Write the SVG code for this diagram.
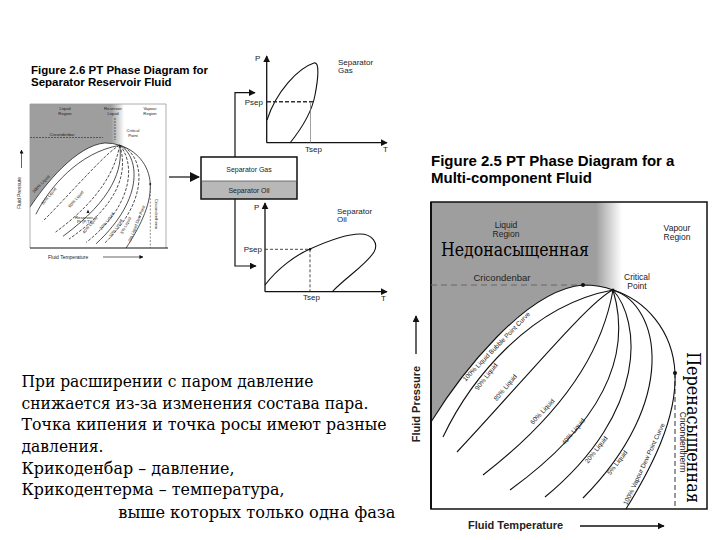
<svg xmlns="http://www.w3.org/2000/svg" width="720" height="540" viewBox="0 0 720 540">
<defs>
<style>
.s{font-family:"Liberation Sans",Arial,sans-serif}
.b{font-weight:bold}
.sr{font-family:"DejaVu Serif","Liberation Serif",serif}
.cv{fill:none;stroke:#111;stroke-width:1.1}
.cv6{fill:none;stroke:#222;stroke-width:0.8;vector-effect:non-scaling-stroke}
.dash6{stroke-dasharray:3 1.5}
.ax{stroke:#111;stroke-width:1.3;fill:none}
</style>
<linearGradient id="gfade" gradientUnits="userSpaceOnUse" x1="596" y1="0" x2="622" y2="0">
<stop offset="0" stop-color="#9e9e9e"/>
<stop offset="1" stop-color="#ffffff"/>
</linearGradient>
<marker id="ah" viewBox="0 0 10 10" refX="9" refY="5" markerWidth="7" markerHeight="7" markerUnits="userSpaceOnUse" orient="auto">
<path d="M0,0 L10,5 L0,10 z" fill="#111"/>
</marker>
<marker id="ahb" viewBox="0 0 10 10" refX="9" refY="5" markerWidth="10" markerHeight="10" markerUnits="userSpaceOnUse" orient="auto">
<path d="M0,0 L10,5 L0,10 z" fill="#111"/>
</marker>
<marker id="ahs" viewBox="0 0 10 10" refX="9" refY="5" markerWidth="4" markerHeight="4" markerUnits="userSpaceOnUse" orient="auto">
<path d="M0,0 L10,5 L0,10 z" fill="#111"/>
</marker>
</defs>
<rect width="720" height="540" fill="#fff"/>

<!-- Figure 2.6 -->
<g id="fig26">
<text class="s b" x="31" y="74" font-size="11.5">Figure 2.6  PT Phase Diagram for</text>
<text class="s b" x="31" y="86" font-size="11.5">Separator Reservoir Fluid</text>
<g transform="matrix(0.493 0 0 0.469 -182.5 9.3)">
<path d="M431,202 H622 V292 L613,290 Q600,285 583,285 C525,290 460,375 431,422 Z" fill="url(#gfade)"/>
<path class="cv6" d="M431,422 C460,375 525,290 583,285 Q600,285 613,290"/>
<path class="cv6" d="M613,290 C645,300 673,330 675,373 C677,420 650,470 626,509"/>
<path class="cv6" d="M613,290 C530,305 470,380 443,437"/>
<path class="cv6 dash6" d="M613,290 C590,300 520,385 457,452"/>
<path class="cv6 dash6" d="M613,290 C605,335 580,400 483,475"/>
<path class="cv6" d="M613,290 C620,340 600,405 498,484"/>
<path class="cv6 dash6" d="M613,290 C628,340 620,410 510,490"/>
<path class="cv6 dash6" d="M613,290 C640,320 650,410 545,497"/>
<path class="cv6" d="M613,290 C650,310 668,400 565,500"/>
<path class="cv6 dash6" d="M613,290 C660,305 680,400 583,498"/>
</g>
<path d="M30,248 V104 H166 V248" fill="none" stroke="#999" stroke-width="0.8"/>
<line x1="30" y1="248" x2="168" y2="248" stroke="#111" stroke-width="1.2"/>
<line x1="30" y1="137.5" x2="103" y2="137.5" stroke="#444" stroke-width="0.8" stroke-dasharray="2 1"/>
<line x1="115" y1="118" x2="115" y2="140" stroke="#444" stroke-width="0.8" stroke-dasharray="2 1"/>
<line x1="150.3" y1="184" x2="150.3" y2="248" stroke="#444" stroke-width="0.6" stroke-dasharray="2 1.5"/>
<circle cx="150.3" cy="184" r="0.9" fill="#111"/>
<g class="s" font-size="4.2" fill="#222" text-anchor="middle">
<text x="65" y="110">Liquid</text><text x="65" y="114.5">Region</text>
<text x="113" y="110">Reservoir</text><text x="113" y="114.5">Liquid</text>
<text x="150" y="110">Vapour</text><text x="150" y="114.5">Region</text>
<text x="62" y="135.5">Cricondenbar</text>
<text x="133" y="132">Critical</text><text x="133" y="136.5">Point</text>
<text x="84" y="218.5">Reservoir</text><text x="84" y="223">Pt (P,T)</text>
<text transform="translate(154.5,214) rotate(90)">Cricondentherm</text>
<text transform="translate(42,185) rotate(-46)">100% Liquid</text>
<text transform="translate(50,197) rotate(-50)">80% Liquid</text>
<text transform="translate(77,200) rotate(-48)">60% Liquid</text>
<text transform="translate(91,226) rotate(-50)">40% Liquid</text>
<text transform="translate(108,222) rotate(-52)">20% Liquid</text>
<text transform="translate(117,229) rotate(-55)">10% Liquid</text>
<text transform="translate(127,226) rotate(-62)">5% Liquid</text>
<text transform="translate(138,224) rotate(-68)">0% Liquid Dew Point</text>
</g>
<path d="M88,209.5 L86.5,213 L89.5,213 z" fill="#111"/>
<text class="s" font-size="5" fill="#222" text-anchor="middle" transform="translate(21,193) rotate(-90)">Fluid Pressure</text>
<line x1="21.5" y1="168" x2="21.5" y2="150" stroke="#222" stroke-width="0.7" marker-end="url(#ahs)"/>
<text class="s" font-size="5" fill="#222" x="48" y="258.5">Fluid Temperature</text>
<line x1="103" y1="257" x2="143" y2="257" stroke="#222" stroke-width="0.7" marker-end="url(#ahs)"/>
</g>

<!-- Separator box -->
<g id="separator">
<rect x="201" y="181" width="96" height="18" fill="#b8b8b8"/>
<rect x="201" y="157" width="96" height="42" fill="none" stroke="#111" stroke-width="1.5"/>
<line x1="201" y1="181" x2="297" y2="181" stroke="#555" stroke-width="0.8"/>
<text class="s" font-size="7" x="249" y="172" text-anchor="middle" fill="#222">Separator Gas</text>
<text class="s" font-size="7" x="249" y="193" text-anchor="middle" fill="#222">Separator Oil</text>
</g>

<!-- Separator gas chart -->
<g id="gaschart">
<line class="ax" x1="266.7" y1="142.7" x2="266.7" y2="56" marker-end="url(#ah)"/>
<line class="ax" x1="266.7" y1="142.7" x2="387" y2="142.7" marker-end="url(#ah)"/>
<path class="cv" d="M267,120 C276,92 298,68 314,63 C320,61 318,80 315,95 C312,112 302,128 290,143"/>
<line x1="267" y1="101.7" x2="313" y2="101.7" stroke="#333" stroke-width="1.4" stroke-dasharray="4 2"/>
<line x1="310.5" y1="103" x2="310.5" y2="142.7" stroke="#777" stroke-width="0.7"/>
<g class="s" font-size="8" fill="#222">
<text x="255" y="61">P</text>
<text x="383" y="152">T</text>
<text x="263" y="104.5" text-anchor="end">Psep</text>
<text x="305" y="152">Tsep</text>
<text x="338" y="65">Separator</text>
<text x="338" y="73">Gas</text>
</g>
</g>

<!-- Separator oil chart -->
<g id="oilchart">
<line class="ax" x1="265" y1="291.7" x2="265" y2="203" marker-end="url(#ah)"/>
<line class="ax" x1="265" y1="291.7" x2="387" y2="291.7" marker-end="url(#ah)"/>
<path class="cv" d="M265,285 C278,268 296,255 310,249 C330,240 350,234 360,234 C372,234 379,243 374,252 C366,265 345,278 332,292"/>
<line x1="265" y1="249.3" x2="310" y2="249.3" stroke="#333" stroke-width="0.9" stroke-dasharray="3 2"/>
<line x1="310" y1="249.3" x2="310" y2="291.7" stroke="#333" stroke-width="0.9" stroke-dasharray="3 2"/>
<circle cx="310" cy="249.3" r="1.2" fill="#111"/>
<g class="s" font-size="8" fill="#222">
<text x="254" y="210">P</text>
<text x="381" y="301">T</text>
<text x="262" y="252" text-anchor="end">Psep</text>
<text x="303" y="300">Tsep</text>
<text x="337" y="214">Separator</text>
<text x="337" y="222">Oil</text>
</g>
</g>

<!-- connectors -->
<g id="connectors" fill="none" stroke="#111" stroke-width="1.2">
<path d="M169,177 H199" marker-end="url(#ahb)"/>
<path d="M235,157 V92.7 H255" marker-end="url(#ah)"/>
<path d="M235,199 V266 H256" marker-end="url(#ah)"/>
</g>

<!-- Figure 2.5 -->
<g id="fig25">
<text class="s b" x="431" y="166" font-size="15">Figure 2.5  PT Phase Diagram for a</text>
<text class="s b" x="431" y="183" font-size="15">Multi-component Fluid</text>
<path d="M431,202 H622 V292 L613,290 Q600,285 583,285 C525,290 460,375 431,422 Z" fill="url(#gfade)"/>
<rect x="431" y="202" width="276" height="307" fill="none" stroke="#111" stroke-width="1.5"/>
<line x1="431" y1="202" x2="431" y2="509" stroke="#111" stroke-width="2"/>
<line x1="431" y1="285" x2="583" y2="285" stroke="#666" stroke-width="1.2" stroke-dasharray="6 4"/>
<line x1="675" y1="373" x2="675" y2="509" stroke="#333" stroke-width="1" stroke-dasharray="5 3"/>
<path class="cv" stroke-width="1.5" d="M431,422 C460,375 525,290 583,285 Q600,285 613,290"/>
<path class="cv" stroke-width="1.5" d="M613,290 C645,300 673,330 675,373 C677,420 650,470 626,509"/>
<path class="cv" d="M613,290 C530,305 470,380 443,437"/>
<path class="cv" d="M613,290 C590,300 520,385 457,452"/>
<path class="cv" d="M613,290 C605,335 580,400 483,475"/>
<path class="cv" d="M613,290 C628,340 620,410 510,490"/>
<path class="cv" d="M613,290 C640,320 650,410 545,497"/>
<path class="cv" d="M613,290 C660,305 680,400 583,498"/>
<circle cx="583" cy="285" r="2" fill="#111"/>
<circle cx="613" cy="290" r="1.6" fill="#111"/>
<circle cx="675" cy="373" r="2" fill="#111"/>
<g class="s" font-size="8.5" fill="#222" text-anchor="middle">
<text x="506" y="228">Liquid</text><text x="506" y="236.5">Region</text>
<text x="677" y="231">Vapour</text><text x="677" y="240">Region</text>
<text x="637" y="280">Critical</text><text x="637" y="289">Point</text>
<text x="502" y="281" font-size="9.5">Cricondenbar</text>
<text transform="translate(680,442) rotate(90)">Cricondentherm</text>
</g>
<g class="s" font-size="6.5" fill="#222" text-anchor="middle">
<text transform="translate(498,348) rotate(-46)">100% Liquid Bubble Point Curve</text>
<text transform="translate(488,378) rotate(-52)">90% Liquid</text>
<text transform="translate(507,389) rotate(-50)">80% Liquid</text>
<text transform="translate(544,413) rotate(-47)">60% Liquid</text>
<text transform="translate(575,433) rotate(-50)">40% Liquid</text>
<text transform="translate(598,451) rotate(-52)">20% Liquid</text>
<text transform="translate(619,464) rotate(-52)">5% Liquid</text>
<text transform="translate(646,465) rotate(-65)">100% Vapour Dew Point Curve</text>
</g>
<text class="s b" font-size="11" fill="#222" x="468" y="529">Fluid Temperature</text>
<line x1="580" y1="526" x2="664" y2="526" stroke="#111" stroke-width="1.3" marker-end="url(#ah)"/>
<text class="s b" font-size="11" fill="#222" text-anchor="middle" transform="translate(420,404) rotate(-90)">Fluid Pressure</text>
<line x1="416" y1="354" x2="416" y2="316" stroke="#111" stroke-width="1.3" marker-end="url(#ah)"/>
<text class="sr" font-size="19" x="441" y="256" textLength="148" lengthAdjust="spacingAndGlyphs">Недонасыщенная</text>
<text class="sr" font-size="19" transform="translate(687,352) rotate(90)" textLength="151" lengthAdjust="spacingAndGlyphs">Перенасыщенная</text>
</g>

<!-- explanatory text -->
<g id="note" class="sr" font-size="17.5" fill="#000">
<text x="21.5" y="387" textLength="292" lengthAdjust="spacingAndGlyphs">При расширении с паром давление</text>
<text x="21.5" y="408.7" textLength="347" lengthAdjust="spacingAndGlyphs">снижается из-за изменения состава пара.</text>
<text x="21.5" y="430.3" textLength="365" lengthAdjust="spacingAndGlyphs">Точка кипения и точка росы имеют разные</text>
<text x="21.5" y="452" textLength="82" lengthAdjust="spacingAndGlyphs">давления.</text>
<text x="21.5" y="473.7" textLength="213" lengthAdjust="spacingAndGlyphs">Крикоденбар – давление,</text>
<text x="21.5" y="495.3" textLength="263" lengthAdjust="spacingAndGlyphs">Крикодентерма – температура,</text>
<text x="118.3" y="518" textLength="277" lengthAdjust="spacingAndGlyphs">выше которых только одна фаза</text>
</g>
</svg>
